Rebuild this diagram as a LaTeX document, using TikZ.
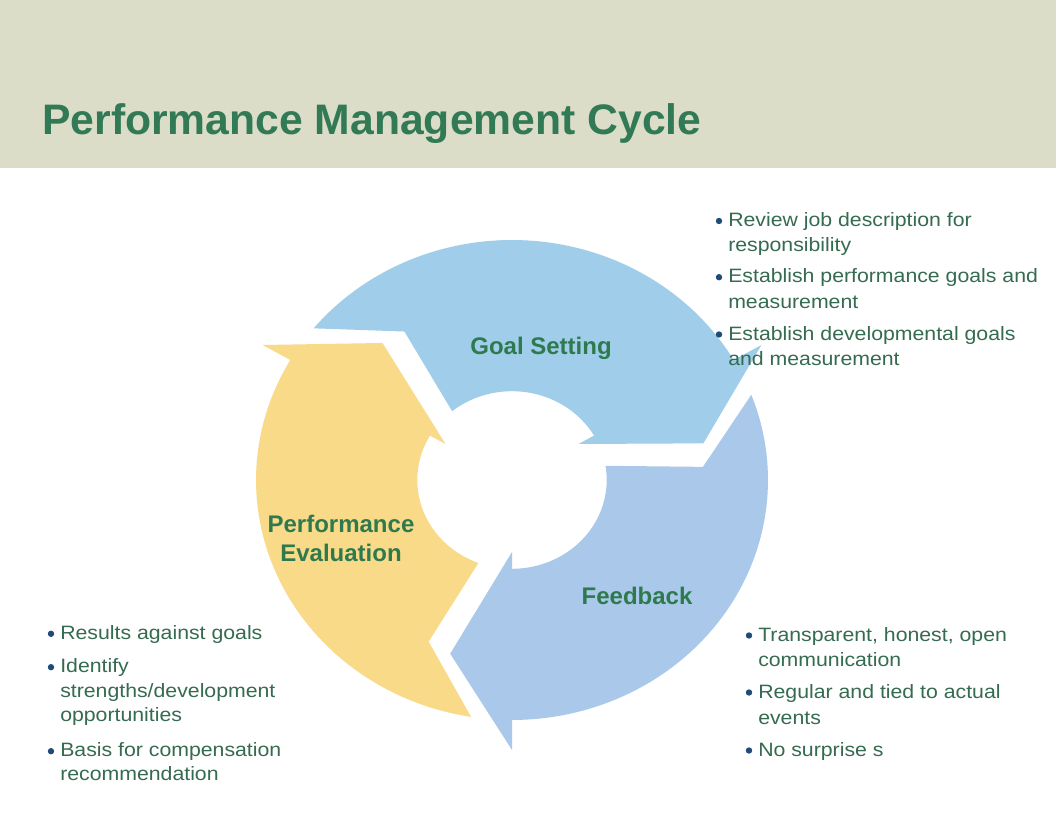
\documentclass[tikz,border=0pt]{standalone}
\usepackage{fontspec}
\setmainfont{Liberation Sans}
\newfontfamily\bulfont[FakeStretch=1.1]{Liberation Sans}
\definecolor{barc}{HTML}{DBDDC8}
\definecolor{titlec}{HTML}{317A55}
\definecolor{labelc}{HTML}{2E7A4E}
\definecolor{textc}{HTML}{356B50}
\definecolor{dotc}{HTML}{1F4A7A}
\definecolor{goalc}{HTML}{A0CDEA}
\definecolor{feedc}{HTML}{A9C8EA}
\definecolor{evalc}{HTML}{F8DA89}
\newcommand\cyclearrow[2]{%
  \pgfmathsetmacro\aOut{#1+110.8}%
  \pgfmathsetmacro\aNotch{#1+94.2}%
  \pgfmathsetmacro\aIn{#1+99.2}%
  \pgfmathsetmacro\aTip{#1-18.45}%
  \fill[#2] (\aOut:1) -- plot[domain=\aOut:#1, samples=70] (\x:1) -- (#1:1.125)
    -- (\aTip:0.763) -- (#1:0.30) -- (#1:0.37)
    -- plot[domain=#1:\aIn, samples=40] (\x:0.37) -- (\aNotch:0.748) -- cycle;
}
\newcommand\bline[4]{\node[btext] (#1) at (#2,#3) {#4};}
\newcommand\bdot[3]{\node[bdotstyle] (#1) at (#2,#3-5.5) {};}
\begin{document}
\begin{tikzpicture}[x=0.75pt,y=-0.75pt,
  btext/.style={anchor=base west, inner sep=0pt, text=textc, font=\bulfont\fontsize{14.5}{18}\selectfont},
  bdotstyle/.style={circle, fill=dotc, inner sep=0pt, minimum size=4.8pt},
  lab/.style={text=labelc, font=\bfseries\fontsize{18}{21.75}\selectfont, inner sep=0pt, align=center}]
\useasboundingbox (0,0) rectangle (1056,816);
\fill[white] (0,0) rectangle (1056,816);
\fill[barc] (0,0) rectangle (1056,168);
\node[anchor=base west, inner sep=0pt, text=titlec, font=\bfseries\fontsize{32}{38}\selectfont] (title) at (42,135) {Performance Management Cycle};
\begin{scope}[shift={(512,480)}, x=192pt, y=180pt]
  \cyclearrow{30}{goalc}
  \cyclearrow{270}{feedc}
  \cyclearrow{150}{evalc}
\end{scope}
\node[lab] (gs) at (541,348) {Goal Setting};
\node[lab] (pe) at (341,538) {Performance\\Evaluation};
\node[lab] (fb) at (637,596) {Feedback};
% top right
\bdot{d1}{719}{226.5}
\bline{t1}{728}{226.5}{Review job description for}
\bline{t2}{728}{251.7}{responsibility}
\bdot{d2}{719}{282.7}
\bline{t3}{728}{282.7}{Establish performance goals and}
\bline{t4}{728}{308.3}{measurement}
\bdot{d3}{719}{340}
\bline{t5}{728}{340}{Establish developmental goals}
\bline{t6}{728}{365.7}{and measurement}
% bottom left
\bdot{d4}{51}{639.3}
\bline{l1}{60}{639.3}{Results against goals}
\bdot{d5}{51}{672.7}
\bline{l2}{60}{672.7}{Identify}
\bline{l3}{60}{697.3}{strengths/development}
\bline{l4}{60}{721.7}{opportunities}
\bdot{d6}{51}{756.7}
\bline{l5}{60}{756.7}{Basis for compensation}
\bline{l6}{60}{780.7}{recommendation}
% bottom right
\bdot{d7}{749}{641}
\bline{r1}{758}{641}{Transparent, honest, open}
\bline{r2}{758}{666}{communication}
\bdot{d8}{749}{698}
\bline{r3}{758}{698}{Regular and tied to actual}
\bline{r4}{758}{724}{events}
\bdot{d9}{749}{756}
\bline{r5}{758}{756}{No surprise s}
\end{tikzpicture}
\end{document}
